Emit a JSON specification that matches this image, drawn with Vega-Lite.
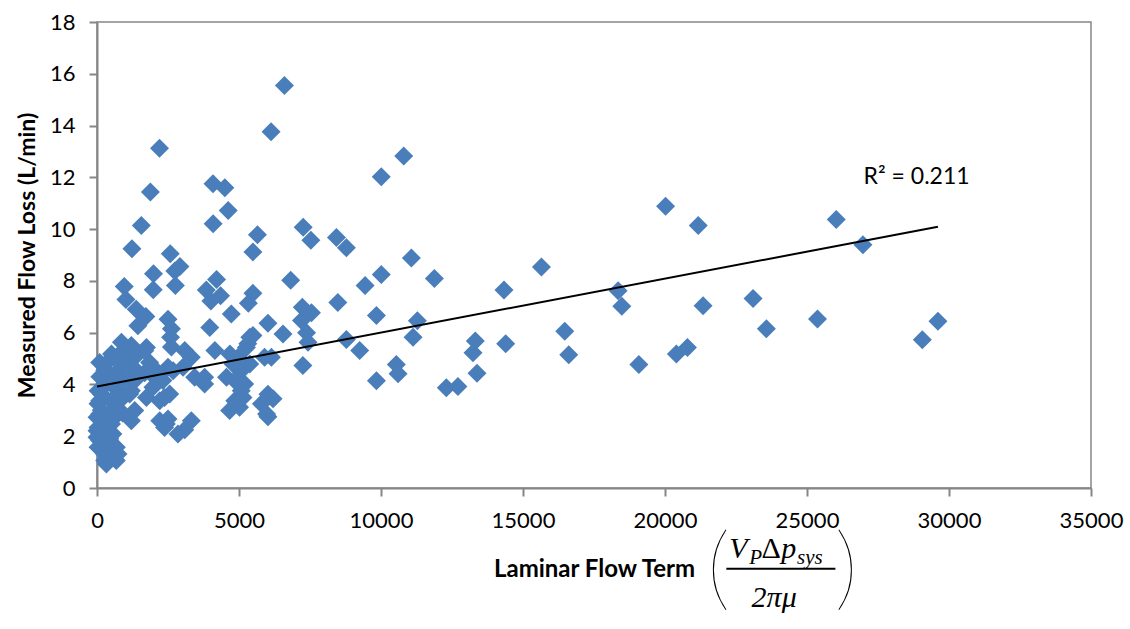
{
  "$schema": "https://vega.github.io/schema/vega-lite/v6.json",
  "width": 994,
  "height": 466,
  "autosize": "none",
  "padding": {"left": 97, "top": 22, "right": 39, "bottom": 141},
  "background": "white",
  "config": {
    "view": {"stroke": "#868686", "strokeWidth": 1.5},
    "axis": {
      "domainColor": "#868686", "domainWidth": 2, "tickColor": "#868686", "tickWidth": 2, "tickSize": 8,
      "grid": false, "labelFont": "Lato", "labelFontSize": 22, "labelColor": "#000000", "labelFlush": false,
      "titleFont": "Lato", "titleFontSize": 23, "titleFontWeight": "bold", "titleColor": "#000000"
    }
  },
  "datasets": {
    "pts": [
      {"x":6600,"y":15.55},{"x":6130,"y":13.76},{"x":2200,"y":13.12},{"x":10800,"y":12.82},{"x":10010,"y":12.02},
      {"x":4085,"y":11.75},{"x":4500,"y":11.6},{"x":1880,"y":11.43},{"x":20020,"y":10.88},{"x":4620,"y":10.72},
      {"x":26030,"y":10.37},{"x":4090,"y":10.21},{"x":1560,"y":10.14},{"x":21170,"y":10.14},{"x":7260,"y":10.07},
      {"x":5650,"y":9.78},{"x":8430,"y":9.68},{"x":7530,"y":9.57},{"x":26970,"y":9.4},{"x":8780,"y":9.28},
      {"x":1230,"y":9.24},{"x":5490,"y":9.12},{"x":2580,"y":9.05},{"x":11070,"y":8.88},{"x":2920,"y":8.56},
      {"x":15650,"y":8.54},{"x":2740,"y":8.38},{"x":1990,"y":8.28},{"x":10010,"y":8.25},{"x":4210,"y":8.05},
      {"x":11880,"y":8.09},{"x":6820,"y":8.02},{"x":960,"y":7.78},{"x":2760,"y":7.82},{"x":9440,"y":7.82},
      {"x":14330,"y":7.65},{"x":1980,"y":7.66},{"x":3850,"y":7.65},{"x":18350,"y":7.62},{"x":5490,"y":7.52},
      {"x":4350,"y":7.43},{"x":23100,"y":7.32},{"x":1020,"y":7.28},{"x":4010,"y":7.22},{"x":5330,"y":7.14},
      {"x":8480,"y":7.17},{"x":7230,"y":6.98},{"x":18480,"y":7.02},{"x":21340,"y":7.04},{"x":1380,"y":6.9},
      {"x":4730,"y":6.72},{"x":7550,"y":6.77},{"x":1720,"y":6.62},{"x":9840,"y":6.66},{"x":2500,"y":6.52},
      {"x":6020,"y":6.36},{"x":3970,"y":6.2},{"x":11280,"y":6.46},{"x":25370,"y":6.53},{"x":29610,"y":6.44},
      {"x":7200,"y":6.47},{"x":1440,"y":6.27},{"x":2620,"y":6.15},{"x":23570,"y":6.15},{"x":16470,"y":6.05},
      {"x":7380,"y":6.0},{"x":6550,"y":5.95},{"x":5490,"y":5.89},{"x":2590,"y":5.82},{"x":11130,"y":5.82},
      {"x":5380,"y":5.82},{"x":8780,"y":5.74},{"x":29060,"y":5.73},{"x":13320,"y":5.68},{"x":7430,"y":5.63},
      {"x":860,"y":5.63},{"x":14390,"y":5.57},{"x":5310,"y":5.57},{"x":1210,"y":5.5},{"x":2620,"y":5.45},
      {"x":1740,"y":5.43},{"x":20790,"y":5.43},{"x":5260,"y":5.43},{"x":4150,"y":5.31},{"x":3090,"y":5.31},
      {"x":9250,"y":5.31},{"x":1680,"y":5.3},{"x":920,"y":5.31},{"x":13240,"y":5.22},{"x":20400,"y":5.18},
      {"x":16610,"y":5.15},{"x":1445,"y":5.18},{"x":510,"y":5.18},{"x":4680,"y":5.18},{"x":3320,"y":5.05},
      {"x":4970,"y":5.05},{"x":5900,"y":5.05},{"x":6140,"y":5.05},{"x":450,"y":4.95},{"x":19080,"y":4.77},
      {"x":10540,"y":4.77},{"x":7250,"y":4.73},{"x":4790,"y":4.79},{"x":5380,"y":4.79},{"x":2500,"y":4.66},
      {"x":3030,"y":4.66},{"x":1270,"y":4.66},{"x":5080,"y":4.53},{"x":740,"y":4.53},{"x":1330,"y":4.53},
      {"x":2090,"y":4.53},{"x":2680,"y":4.53},{"x":270,"y":4.53},{"x":10600,"y":4.41},{"x":13380,"y":4.43},
      {"x":3790,"y":4.28},{"x":3440,"y":4.28},{"x":4560,"y":4.28},{"x":2030,"y":4.28},{"x":975,"y":4.21},
      {"x":4850,"y":4.15},{"x":2320,"y":4.15},{"x":9840,"y":4.14},{"x":5200,"y":4.02},{"x":3790,"y":4.02},
      {"x":330,"y":4.02},{"x":12710,"y":3.92},{"x":12300,"y":3.87},{"x":1970,"y":3.89},{"x":5080,"y":3.76},
      {"x":740,"y":3.76},{"x":1210,"y":3.76},{"x":6020,"y":3.62},{"x":2560,"y":3.63},{"x":1150,"y":3.63},
      {"x":155,"y":3.63},{"x":1740,"y":3.5},{"x":2380,"y":3.5},{"x":5140,"y":3.5},{"x":6200,"y":3.45},
      {"x":2210,"y":3.37},{"x":800,"y":3.37},{"x":95,"y":3.37},{"x":500,"y":3.37},{"x":4850,"y":3.37},
      {"x":5790,"y":3.25},{"x":35,"y":3.25},{"x":5020,"y":3.12},{"x":4670,"y":2.99},{"x":1330,"y":2.99},
      {"x":5970,"y":2.86},{"x":95,"y":2.86},{"x":740,"y":2.86},{"x":270,"y":2.86},{"x":6020,"y":2.75},
      {"x":0,"y":2.73},{"x":2500,"y":2.67},{"x":3320,"y":2.6},{"x":1210,"y":2.6},{"x":2210,"y":2.6},
      {"x":510,"y":2.47},{"x":2440,"y":2.47},{"x":35,"y":2.34},{"x":2380,"y":2.34},{"x":270,"y":2.34},
      {"x":3090,"y":2.25},{"x":0,"y":2.21},{"x":2850,"y":2.09},{"x":560,"y":2.09},{"x":0,"y":1.96},
      {"x":95,"y":1.83},{"x":270,"y":1.83},{"x":35,"y":1.57},{"x":510,"y":1.57},{"x":680,"y":1.57},
      {"x":270,"y":1.31},{"x":740,"y":1.31},{"x":680,"y":1.06},{"x":270,"y":1.06},{"x":330,"y":0.93},
      {"x":100,"y":4.3},{"x":380,"y":4.45},{"x":620,"y":4.15},{"x":1330,"y":4.15},{"x":1680,"y":4.45},
      {"x":1850,"y":4.85},{"x":800,"y":4.85},{"x":1150,"y":4.92},{"x":95,"y":4.85},{"x":40,"y":3.76},
      {"x":271,"y":4.02},{"x":150,"y":3.0},{"x":400,"y":2.6},{"x":600,"y":3.1},{"x":900,"y":2.9},
      {"x":200,"y":2.1},{"x":450,"y":1.9}
    ],
    "trend": [{"x":0,"y":3.92},{"x":29610,"y":10.09}],
    "r2": [{"x":28860,"y":12.03,"t":"R² = 0.211"}],
    "num": [{"x":22260,"y":-2.69,"t":"V"},{"x":24090,"y":-2.69,"t":"p"},{"x":23050,"y":-4.59,"t":"2πμ"}],
    "up": [{"x":23400,"y":-2.69,"t":"Δ"}],
    "sub": [{"x":22970,"y":-2.92,"t":"P"},{"x":24650,"y":-2.92,"t":"sys"}],
    "bar": [{"x":22160,"x2":26000,"y":-3.12}],
    "par": [{"x":21880,"y":-3.2,"t":"("},{"x":26380,"y":-3.2,"t":")"}]
  },
  "layer": [
    {
      "data": {"name": "pts"},
      "mark": {"type": "point", "shape": "diamond", "filled": true, "size": 361, "color": "#4A7EBB", "opacity": 1},
      "encoding": {
        "x": {"field": "x", "type": "quantitative", "scale": {"domain": [0, 35000], "nice": false},
              "axis": {"values": [0,5000,10000,15000,20000,25000,30000,35000], "format": "d", "labelPadding": 14, "title": "Laminar Flow Term", "titlePadding": 26, "titleFontSize": 24}},
        "y": {"field": "y", "type": "quantitative", "scale": {"domain": [0, 18], "nice": false},
              "axis": {"values": [0,2,4,6,8,10,12,14,16,18], "labelPadding": 14, "title": "Measured Flow Loss (L/min)", "titlePadding": 10}}
      }
    },
    {
      "data": {"name": "trend"},
      "mark": {"type": "line", "color": "#000000", "strokeWidth": 2},
      "encoding": {
        "x": {"field": "x", "type": "quantitative", "scale": {"domain": [0, 35000], "nice": false}},
        "y": {"field": "y", "type": "quantitative", "scale": {"domain": [0, 18], "nice": false}}
      }
    },
    {
      "data": {"name": "r2"},
      "mark": {"type": "text", "font": "Lato", "fontSize": 23, "color": "#000000", "align": "center", "baseline": "middle"},
      "encoding": {
        "x": {"field": "x", "type": "quantitative", "scale": {"domain": [0, 35000], "nice": false}},
        "y": {"field": "y", "type": "quantitative", "scale": {"domain": [0, 18], "nice": false}},
        "text": {"field": "t"}
      }
    },
    {
      "data": {"name": "num"},
      "mark": {"type": "text", "font": "Liberation Serif", "fontStyle": "italic", "fontSize": 30, "color": "#000000", "align": "left", "baseline": "alphabetic"},
      "encoding": {
        "x": {"field": "x", "type": "quantitative", "scale": {"domain": [0, 35000], "nice": false}},
        "y": {"field": "y", "type": "quantitative", "scale": {"domain": [0, 18], "nice": false}},
        "text": {"field": "t"}
      }
    },
    {
      "data": {"name": "up"},
      "mark": {"type": "text", "font": "Liberation Serif", "fontSize": 30, "color": "#000000", "align": "left", "baseline": "alphabetic"},
      "encoding": {
        "x": {"field": "x", "type": "quantitative", "scale": {"domain": [0, 35000], "nice": false}},
        "y": {"field": "y", "type": "quantitative", "scale": {"domain": [0, 18], "nice": false}},
        "text": {"field": "t"}
      }
    },
    {
      "data": {"name": "sub"},
      "mark": {"type": "text", "font": "Liberation Serif", "fontStyle": "italic", "fontSize": 21, "color": "#000000", "align": "left", "baseline": "alphabetic"},
      "encoding": {
        "x": {"field": "x", "type": "quantitative", "scale": {"domain": [0, 35000], "nice": false}},
        "y": {"field": "y", "type": "quantitative", "scale": {"domain": [0, 18], "nice": false}},
        "text": {"field": "t"}
      }
    },
    {
      "data": {"name": "bar"},
      "mark": {"type": "rule", "color": "#000000", "strokeWidth": 2},
      "encoding": {
        "x": {"field": "x", "type": "quantitative", "scale": {"domain": [0, 35000], "nice": false}},
        "x2": {"field": "x2"},
        "y": {"field": "y", "type": "quantitative", "scale": {"domain": [0, 18], "nice": false}}
      }
    },
    {
      "data": {"name": "par"},
      "mark": {"type": "text", "font": "Lato", "fontWeight": 100, "fontSize": 92, "color": "#000000", "align": "center", "baseline": "middle"},
      "encoding": {
        "x": {"field": "x", "type": "quantitative", "scale": {"domain": [0, 35000], "nice": false}},
        "y": {"field": "y", "type": "quantitative", "scale": {"domain": [0, 18], "nice": false}},
        "text": {"field": "t"}
      }
    }
  ]
}
